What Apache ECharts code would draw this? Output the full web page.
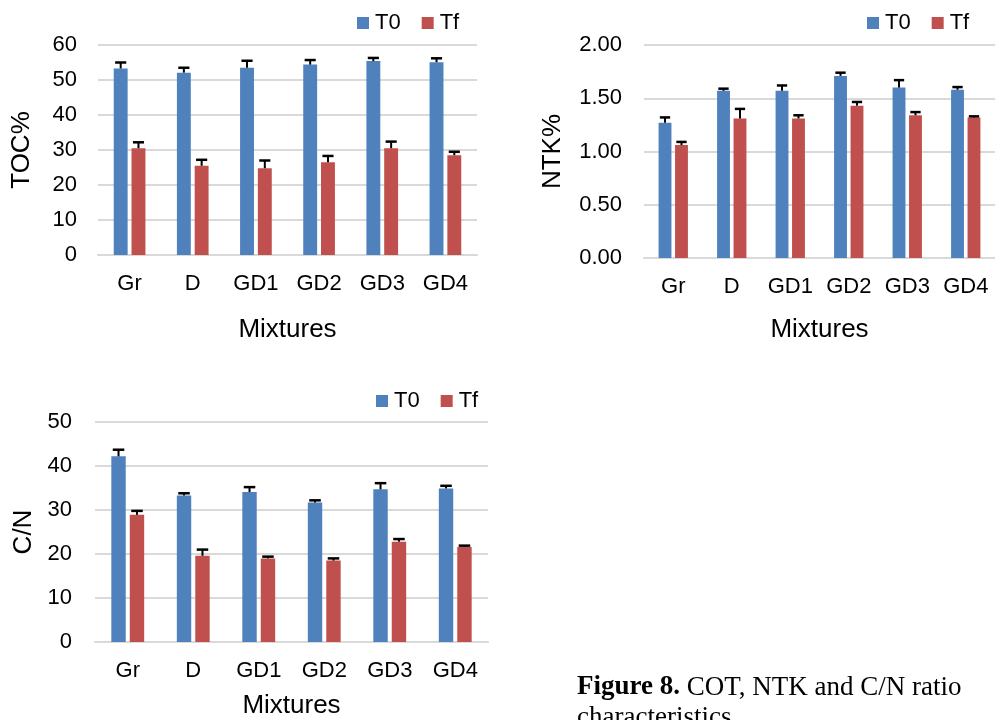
<!DOCTYPE html>
<html>
<head>
<meta charset="utf-8">
<script src="https://cdn.jsdelivr.net/npm/echarts@6/dist/echarts.min.js"></script>
<style>
  html, body { margin: 0; padding: 0; background: #fff; }
  #chart { width: 995px; height: 720px; }
</style>
</head>
<body>
<div id="chart"></div>
<script>
// Mixtures compared at the start (T0) and end (Tf) of the trial
const categories = ['Gr', 'D', 'GD1', 'GD2', 'GD3', 'GD4'];

// Total organic carbon, %
const tocT0 = [53.3, 52.1, 53.5, 54.4, 55.4, 55.1];
const tocT0Err = [1.7, 1.4, 2.0, 1.3, 0.9, 1.1];
const tocTf = [30.5, 25.5, 24.8, 26.5, 30.5, 28.5];
const tocTfErr = [1.7, 1.7, 2.2, 1.8, 1.9, 1.0];

// Total Kjeldahl nitrogen, %
const ntkT0 = [1.27, 1.57, 1.57, 1.71, 1.60, 1.58];
const ntkT0Err = [0.05, 0.02, 0.05, 0.03, 0.07, 0.025];
const ntkTf = [1.06, 1.31, 1.31, 1.43, 1.34, 1.32];
const ntkTfErr = [0.03, 0.09, 0.03, 0.035, 0.03, 0.01];

// C/N ratio
const cnT0 = [42.2, 33.3, 34.1, 31.7, 34.7, 34.9];
const cnT0Err = [1.5, 0.5, 1.1, 0.5, 1.4, 0.6];
const cnTf = [28.9, 19.6, 19.0, 18.5, 22.8, 21.6];
const cnTfErr = [0.9, 1.4, 0.4, 0.5, 0.6, 0.3];

const BLUE = '#4f81bd';
const RED = '#c0504d';
const GRID_LINE = '#d9d9d9';
const FONT = 'Liberation Sans, Arial, sans-serif';
const SERIF = '"Liberation Serif", "Times New Roman", serif';
const BAR_RATIO = 0.22;   // bar width as a share of the category band
const BAR_GAP = 0.28;     // gap between the two bars, relative to bar width

const chart = echarts.init(document.getElementById('chart'), null, { renderer: 'canvas' });

// Upper error bar (stem + cap) drawn over one bar of a pair; side = -1 for T0, +1 for Tf
function errorBar(side) {
  return function (params, api) {
    const idx = api.value(0);
    const v = api.value(1);
    const top = api.value(2);
    const band = api.size([1, 0])[0];
    const bw = band * BAR_RATIO;
    const x = api.coord([idx, v])[0] + side * bw * (1 + BAR_GAP) / 2;
    const y0 = api.coord([idx, v])[1];
    const y1 = api.coord([idx, top])[1];
    const half = bw * 0.4;
    return {
      type: 'group',
      children: [
        { type: 'line', shape: { x1: x, y1: y0, x2: x, y2: y1 }, style: { stroke: '#000', lineWidth: 2 } },
        { type: 'line', shape: { x1: x - half, y1: y1, x2: x + half, y2: y1 }, style: { stroke: '#000', lineWidth: 2.5 } }
      ]
    };
  };
}

function errData(vals, errs) {
  return vals.map((v, i) => [i, v, v + errs[i]]);
}

const panels = [
  { grid: { left: 98, top: 45, width: 379, height: 210 }, yName: 'TOC%', yGap: 63, xGap: 62, labelMargin: 21,
    min: 0, max: 60, interval: 10, digits: 0, t0: tocT0, t0e: tocT0Err, tf: tocTf, tfe: tocTfErr,
    legend: { left: 357, top: 12 } },
  { grid: { left: 644, top: 45, width: 351, height: 213 }, yName: 'NTK%', yGap: 78, xGap: 59, labelMargin: 22,
    min: 0, max: 2, interval: 0.5, digits: 2, t0: ntkT0, t0e: ntkT0Err, tf: ntkTf, tfe: ntkTfErr,
    legend: { left: 867, top: 12 } },
  { grid: { left: 95, top: 422, width: 393, height: 224 }, yName: 'C/N', yGap: 58, xGap: 51, labelMargin: 23,
    min: 0, max: 50, interval: 10, digits: 0, t0: cnT0, t0e: cnT0Err, tf: cnTf, tfe: cnTfErr,
    legend: { left: 376, top: 390 } }
];

const option = {
  backgroundColor: '#fff',
  animation: false,
  textStyle: { fontFamily: FONT },
  grid: [],
  xAxis: [],
  yAxis: [],
  legend: [],
  series: [],
  graphic: [
    {
      type: 'text', left: 577, top: 674,
      style: {
        text: '{b|Figure 8.} COT, NTK and C/N ratio',
        font: '27px ' + SERIF,
        fill: '#000',
        rich: { b: { fontWeight: 'bold', fontFamily: SERIF, fontSize: 27 } }
      }
    },
    {
      type: 'text', left: 577, top: 704,
      style: { text: 'characteristics', font: '27px ' + SERIF, fill: '#000' }
    }
  ]
};

panels.forEach((p, k) => {
  option.grid.push(Object.assign({ containLabel: false }, p.grid));
  option.xAxis.push({
    type: 'category', gridIndex: k, data: categories,
    name: 'Mixtures', nameLocation: 'middle', nameGap: p.xGap,
    nameTextStyle: { fontSize: 26, color: '#000', fontFamily: FONT },
    axisLine: { lineStyle: { color: GRID_LINE, width: 2 } },
    axisTick: { show: false },
    axisLabel: { fontSize: 22, color: '#000', margin: 18, fontFamily: FONT, interval: 0 }
  });
  option.yAxis.push({
    type: 'value', gridIndex: k, min: p.min, max: p.max, interval: p.interval,
    name: p.yName, nameLocation: 'middle', nameGap: p.yGap, nameRotate: 90,
    nameTextStyle: { fontSize: 26, color: '#000', fontFamily: FONT },
    axisLine: { show: false }, axisTick: { show: false },
    splitLine: { lineStyle: { color: GRID_LINE, width: 2 } },
    axisLabel: { fontSize: 22, color: '#000', margin: p.labelMargin, fontFamily: FONT,
      formatter: v => v.toFixed(p.digits) }
  });
  option.legend.push({
    left: p.legend.left, top: p.legend.top, orient: 'horizontal', padding: 0,
    data: ['T0', 'Tf'], icon: 'rect', itemWidth: 12, itemHeight: 12, itemGap: 21,
    textStyle: { fontSize: 22, color: '#000', fontFamily: FONT, padding: [0, 0, 0, 1] }
  });
  option.series.push(
    { name: 'T0', type: 'bar', xAxisIndex: k, yAxisIndex: k, data: p.t0,
      barWidth: (BAR_RATIO * 100) + '%', barGap: (BAR_GAP * 100) + '%', itemStyle: { color: BLUE } },
    { name: 'Tf', type: 'bar', xAxisIndex: k, yAxisIndex: k, data: p.tf,
      barWidth: (BAR_RATIO * 100) + '%', barGap: (BAR_GAP * 100) + '%', itemStyle: { color: RED } },
    { name: 'T0 error', type: 'custom', xAxisIndex: k, yAxisIndex: k, z: 5,
      renderItem: errorBar(-1), encode: { x: 0, y: [1, 2] }, data: errData(p.t0, p.t0e) },
    { name: 'Tf error', type: 'custom', xAxisIndex: k, yAxisIndex: k, z: 5,
      renderItem: errorBar(1), encode: { x: 0, y: [1, 2] }, data: errData(p.tf, p.tfe) }
  );
});

chart.setOption(option);
</script>
</body>
</html>
